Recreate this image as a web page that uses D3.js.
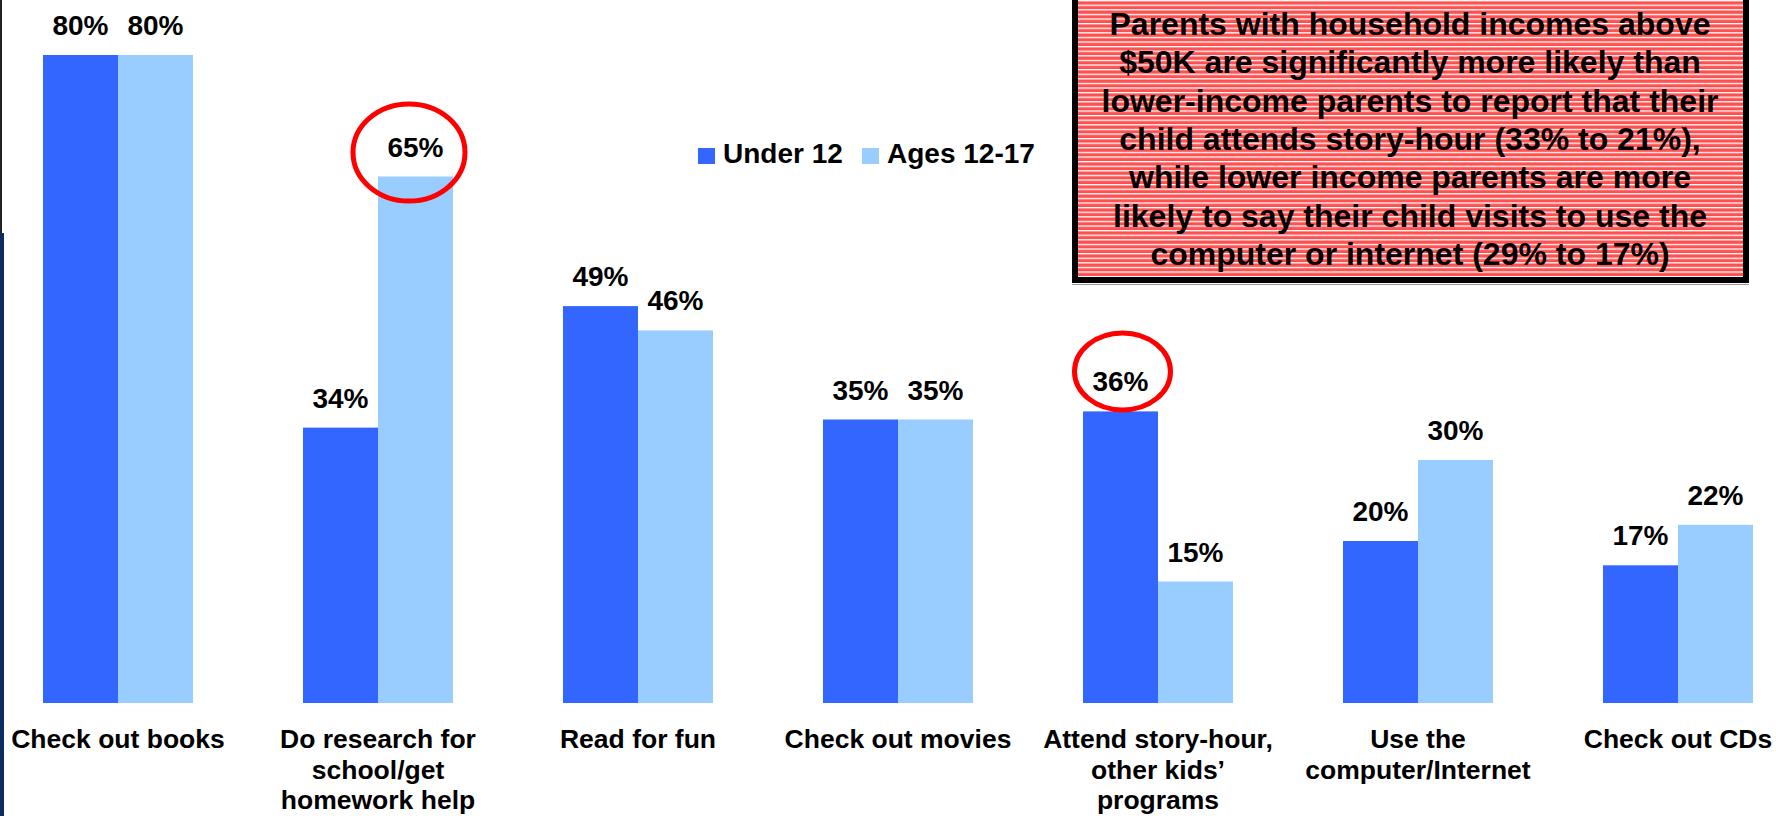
<!DOCTYPE html>
<html><head><meta charset="utf-8">
<script src="https://cdn.jsdelivr.net/npm/d3@7"></script>
<style>
html,body{margin:0;padding:0;background:#fff;overflow:hidden}
text{font-family:"Liberation Sans",Arial,sans-serif;font-weight:bold;fill:#000}
</style></head>
<body><svg id="c" width="1776" height="816"></svg>
<script>
const categories = ["Check out books","Do research for school/get homework help","Read for fun","Check out movies","Attend story-hour, other kids’ programs","Use the computer/Internet","Check out CDs"];
const categoryLines = [["Check out books"],["Do research for","school/get","homework help"],["Read for fun"],["Check out movies"],["Attend story-hour,","other kids’","programs"],["Use the","computer/Internet"],["Check out CDs"]];
const seriesNames = ["Under 12","Ages 12-17"];
const under12 = [80,34,49,35,36,20,17];
const ages1217 = [80,65,46,35,15,30,22];
const seriesColors = ["#3366FF","#99CCFF"];
const noteLines = ["Parents with household incomes above","$50K are significantly more likely than","lower-income parents to report that their","child attends story-hour (33% to 21%),","while lower income parents are more","likely to say their child visits to use the","computer or internet (29% to 17%)"];
const circled = [{cat:1, s:1}, {cat:4, s:0}];

const svg = d3.select("#c");
const x0 = d3.scaleBand().domain(categories).range([43,1753]).paddingInner(110/260).paddingOuter(0);
const x1 = d3.scaleBand().domain(seriesNames).range([0,x0.bandwidth()]);
const y = d3.scaleLinear().domain([0,80]).range([703,55]);
const vals = [under12, ages1217];

// left edge decoration
svg.append("line").attr("x1",1).attr("x2",1).attr("y1",0).attr("y2",233).attr("stroke","#222").attr("stroke-width",2);
svg.append("rect").attr("x",0).attr("y",233).attr("width",4).attr("height",583).attr("fill","#0B2D63");

// bars
const g = svg.append("g");
categories.forEach((c,i)=>{
  seriesNames.forEach((s,j)=>{
    const v = vals[j][i];
    g.append("rect").attr("x",x0(c)+x1(s)).attr("y",y(v)).attr("width",x1.bandwidth()).attr("height",y(0)-y(v)).attr("fill",seriesColors[j]);
    g.append("text").attr("x",x0(c)+x1(s)+x1.bandwidth()/2).attr("y",y(v)-20).attr("text-anchor","middle").attr("font-size",28).text(v+"%");
  });
  const t = g.append("text").attr("text-anchor","middle").attr("font-size",26.5).attr("x",x0(c)+x0.bandwidth()/2);
  categoryLines[i].forEach((ln,k)=>{
    t.append("tspan").attr("x",x0(c)+x0.bandwidth()/2).attr("y",748+k*30.5).text(ln);
  });
});

// circles
circled.forEach((o,k)=>{
  const c = categories[o.cat], s = seriesNames[o.s], v = vals[o.s][o.cat];
  const cx = x0(c)+x1(s)+x1.bandwidth()/2;
  const spec = k===0 ? {dx:-6.5,dy:-24,rx:56,ry:48.5} : {dx:2,dy:-40,rx:48,ry:38.5};
  svg.append("ellipse").attr("cx",cx+spec.dx).attr("cy",y(v)+spec.dy).attr("rx",spec.rx).attr("ry",spec.ry)
    .attr("fill","none").attr("stroke","#FF0000").attr("stroke-width",5);
});

// legend
const lg = svg.append("g");
const legX = [698,862];
seriesNames.forEach((s,j)=>{
  lg.append("rect").attr("x",legX[j]).attr("y",148).attr("width",17).attr("height",16).attr("fill",seriesColors[j]);
  lg.append("text").attr("x",legX[j]+25).attr("y",163).attr("font-size",28).text(s);
});

// note box
const defs = svg.append("defs");
const pat = defs.append("pattern").attr("id","stripes").attr("patternUnits","userSpaceOnUse").attr("width",10).attr("height",4.6);
pat.append("rect").attr("width",10).attr("height",4.6).attr("fill","#FF5050");
pat.append("rect").attr("y",0).attr("width",10).attr("height",1.3).attr("fill","#FFFFFF");
svg.append("line").attr("x1",1072).attr("x2",1749).attr("y1",284.5).attr("y2",284.5).attr("stroke","#999").attr("stroke-width",1);
svg.append("rect").attr("x",1075).attr("y",-10).attr("width",671).attr("height",290).attr("fill","url(#stripes)").attr("stroke","#000").attr("stroke-width",6);
const nt = svg.append("text").attr("text-anchor","middle").attr("font-size",32);
noteLines.forEach((ln,k)=>{
  nt.append("tspan").attr("x",1410).attr("y",35+k*38.3).text(ln);
});
</script></body></html>
